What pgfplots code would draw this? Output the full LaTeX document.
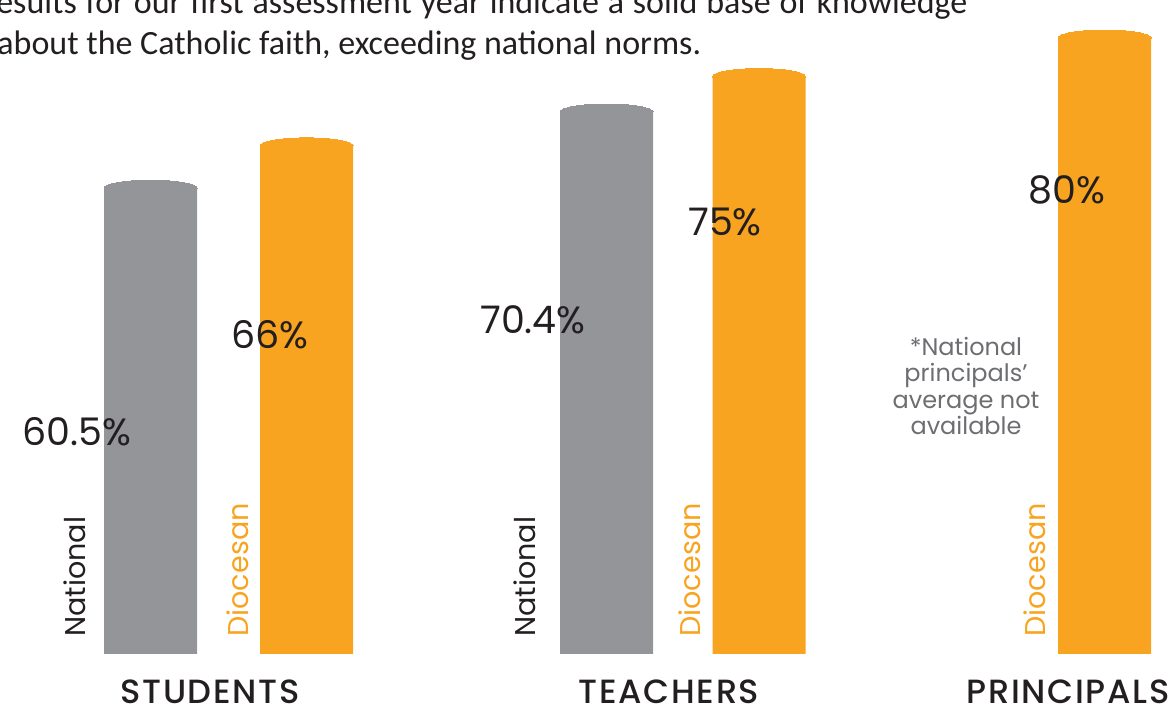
\documentclass[border=0pt]{standalone}
\usepackage{pgfplots}
\pgfplotsset{compat=1.18}
\usepackage{fontspec}
\setmainfont{Poppins}
\newfontfamily\bodyfont{Carlito}
\newfontfamily\catfont{Poppins Medium}[LetterSpace=5]
\definecolor{natgray}{HTML}{939598}
\definecolor{dioorange}{HTML}{F8A421}
\definecolor{darktext}{HTML}{231F20}
\definecolor{notegray}{HTML}{6D6E71}
\begin{document}
\begin{tikzpicture}
\begin{axis}[width=585pt,height=354pt,scale only axis,hide axis,
  xmin=0,xmax=1170,ymin=-7.013,ymax=84.935,clip=false]
\addplot[ybar,bar width=93,bar shift=0pt,fill=natgray,draw=none,
  mark=*,mark size=23.25pt,mark options={yscale=0.17,fill=natgray,draw=natgray,line width=0pt}]
  coordinates {(150.5,60.5) (606.5,70.4)};
\addplot[ybar,bar width=93,bar shift=0pt,fill=dioorange,draw=none,
  mark=*,mark size=23.25pt,mark options={yscale=0.17,fill=dioorange,draw=dioorange,line width=0pt}]
  coordinates {(306.5,66) (759,75) (1104.5,80)};
% value labels
\begin{scope}[every node/.style={overlay,text=darktext,font=\fontsize{19}{21}\selectfont}]
\node at (axis cs:77,28.83) {60.5\%};
\node at (axis cs:270,41.43) {66\%};
\node at (axis cs:533,43.38) {70.4\%};
\node at (axis cs:725,56.10) {75\%};
\node at (axis cs:1067,60.26) {80\%};
\end{scope}
% rotated labels
\begin{scope}[every node/.style={overlay,rotate=90,anchor=west,inner sep=0pt,font=\fontsize{14.3}{16}\selectfont}]
\node[text=darktext] at (axis cs:75,2.21) {National};
\node[text=dioorange] at (axis cs:238,2.21) {Diocesan};
\node[text=darktext] at (axis cs:525,2.21) {National};
\node[text=dioorange] at (axis cs:690,2.21) {Diocesan};
\node[text=dioorange] at (axis cs:1035,2.21) {Diocesan};
\end{scope}
% category labels
\begin{scope}[every node/.style={overlay,anchor=base,inner sep=0pt,text=darktext,font=\catfont\fontsize{16.8}{18}\selectfont}]
\node at (axis cs:210,-6.49) {STUDENTS};
\node at (axis cs:669,-6.49) {TEACHERS};
\node at (axis cs:1068,-6.49) {PRINCIPALS};
\end{scope}
% note
\node[overlay,text=notegray,align=center,font=\fontsize{12}{13.25}\selectfont] at (axis cs:966,34.81)
  {*National\\principals’\\average not\\available};
% top text
\node[overlay,anchor=base west,inner sep=0pt,text=darktext,font=\bodyfont\fontsize{17}{20}\selectfont] at (axis cs:-22,83.12)
  {\makebox[494.5pt][s]{Results for our first assessment year indicate a solid base of knowledge}};
\node[overlay,anchor=base west,inner sep=0pt,text=darktext,font=\bodyfont\fontsize{17}{20}\selectfont] at (axis cs:-3,77.92)
  {about the Catholic faith, exceeding national norms.};
\end{axis}
\pgfresetboundingbox
\path (current axis.south west) rectangle (current axis.north east);
\end{tikzpicture}
\end{document}
